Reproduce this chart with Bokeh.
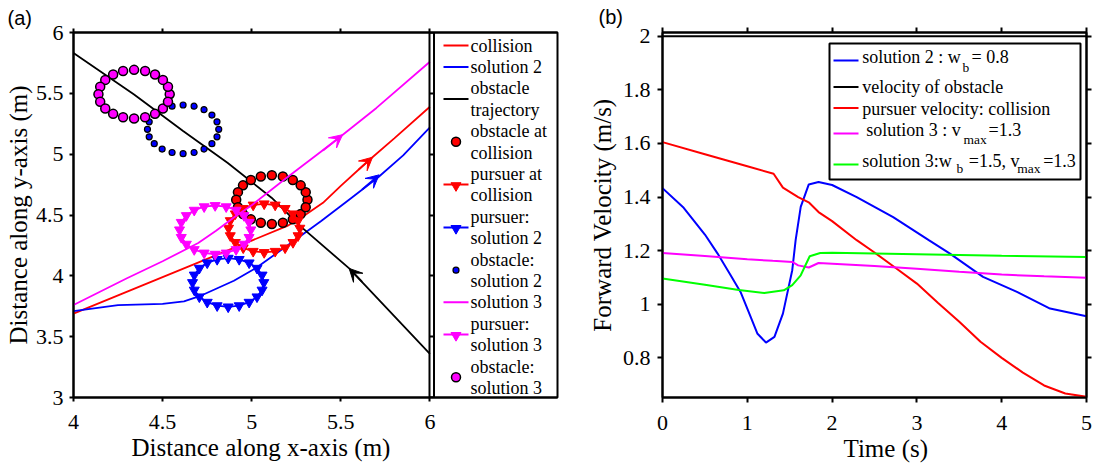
import numpy as np
from bokeh.plotting import figure
from bokeh.layouts import row
from bokeh.models import (Range1d, LinearAxis, FixedTicker, CustomJSTickFormatter, BasicTickFormatter,
                          Label, Arrow, VeeHead, Span, Title)
from bokeh.embed import file_html
from bokeh.resources import INLINE

SERIF = "Liberation Serif"
SANS = "Liberation Sans"
RED, BLUE, MAG, GRN, BLK = "#FF0000", "#0000FF", "#FF00FF", "#00FF00", "#000000"

# ---------------- panel (a) data ----------------
collision_x = [4.0, 4.25, 4.5, 4.75, 5.0, 5.2, 5.3, 5.4, 5.5, 5.65, 5.8, 6.0]
collision_y = [3.69, 3.84, 3.99, 4.14, 4.29, 4.41, 4.50, 4.60, 4.74, 4.94, 5.13, 5.39]
sol2_x = [4.0, 4.25, 4.5, 4.62, 4.72, 4.9, 5.03, 5.22, 5.39, 5.55, 5.71, 5.85, 6.0]
sol2_y = [3.71, 3.76, 3.77, 3.79, 3.84, 3.96, 4.07, 4.27, 4.45, 4.63, 4.81, 4.99, 5.22]
sol3_x = [4.0, 4.3, 4.5, 4.7, 4.8, 4.9, 5.0, 5.2, 5.46, 5.7, 6.0]
sol3_y = [3.76, 3.98, 4.12, 4.27, 4.37, 4.48, 4.58, 4.81, 5.10, 5.38, 5.76]
obstacle_x = [4.0, 4.34, 4.615, 4.864, 5.113, 5.276, 5.547, 6.0]
obstacle_y = [5.832, 5.49, 5.19, 4.929, 4.64, 4.405, 4.061, 3.359]

# footprints (robot radius 0.2 m, 20 boundary points): collision, solution 2, solution 3
ring_radius = 0.2
ring_points = 20
obstacle_ring_x = [5.113, 4.615, 4.34]
obstacle_ring_y = [4.626, 5.204, 5.493]
pursuer_ring_x = [5.07, 4.868, 4.795]
pursuer_ring_y = [4.392, 3.945, 4.378]

# direction arrows: red, blue, magenta, black
arrow_tail_x = [5.60, 5.62, 5.40, 5.62]
arrow_tail_y = [4.873, 4.71, 5.03, 3.95]
arrow_tip_x = [5.678, 5.715, 5.51, 5.547]
arrow_tip_y = [4.975, 4.83, 5.16, 4.061]
arrow_colors = [RED, BLUE, MAG, BLK]

a_xticks = [4, 4.5, 5, 5.5, 6]
a_yticks = [3, 3.5, 4, 4.5, 5, 5.5, 6]

# ---------------- panel (b) data ----------------
t_sol2 = [0, 0.25, 0.5, 0.65, 0.8, 0.92, 1.03, 1.118, 1.22, 1.32, 1.42, 1.53, 1.57, 1.63,
          1.725, 1.84, 2.0, 2.29, 2.72, 3.14, 3.39, 3.78, 4.18, 4.57, 5.0]
v_sol2 = [1.433, 1.36, 1.26, 1.189, 1.11, 1.046, 0.96, 0.891, 0.857, 0.878, 0.965, 1.127, 1.239, 1.363,
          1.447, 1.456, 1.445, 1.40, 1.325, 1.239, 1.189, 1.102, 1.046, 0.984, 0.955]
t_obst = [0, 5]
v_obst = [2.0, 2.0]
t_coll = [0, 0.5, 1.0, 1.31, 1.42, 1.6, 1.73, 1.84, 2.0, 2.29, 2.5, 2.75, 3.0, 3.25, 3.5,
          3.75, 4.0, 4.25, 4.5, 4.75, 5.0]
v_coll = [1.605, 1.56, 1.515, 1.487, 1.435, 1.40, 1.379, 1.344, 1.31, 1.239, 1.193, 1.135, 1.077,
          1.005, 0.935, 0.86, 0.80, 0.745, 0.697, 0.667, 0.655]
t_sol3 = [0, 0.5, 1.0, 1.3, 1.53, 1.6, 1.725, 1.84, 2.5, 3.0, 3.5, 4.0, 4.5, 5.0]
v_sol3 = [1.191, 1.18, 1.168, 1.162, 1.158, 1.145, 1.137, 1.154, 1.143, 1.132, 1.121, 1.111, 1.104, 1.099]
t_sol3b = [0, 0.5, 0.9, 1.2, 1.43, 1.53, 1.63, 1.736, 1.86, 2.0, 3.0, 4.0, 5.0]
v_sol3b = [1.096, 1.073, 1.053, 1.042, 1.052, 1.071, 1.108, 1.179, 1.191, 1.192, 1.187, 1.181, 1.176]

b_xticks = [0, 1, 2, 3, 4, 5]
b_yticks = [0.8, 1.0, 1.2, 1.4, 1.6, 1.8, 2.0]
b_ytick_labels = ["0.8", "1", "1.2", "1.4", "1.6", "1.8", "2"]

# ---------------- layout constants (page pixels) ----------------
H = 465
TOP, BOT = 32, 68            # frame top border / bottom border shared by both panels
A_LEFT, A_RIGHT_B, A_W = 73, 5, 562
B_LEFT, B_RIGHT_B, B_W = 100, 12, 536
A_X1 = 4 + (A_W - A_LEFT - A_RIGHT_B) / 178.2      # frame extends over the legend column


def style_axis(ax, ticks, tick_out, labels=True, fmt="js"):
    ax.ticker = FixedTicker(ticks=ticks)
    ax.axis_line_width = 2
    ax.axis_line_color = BLK
    ax.major_tick_line_width = 2
    ax.major_tick_line_color = BLK
    ax.major_tick_out = tick_out
    ax.major_tick_in = 0
    ax.minor_tick_line_color = None
    ax.axis_label_text_font = SERIF
    ax.axis_label_text_font_size = "25px"
    ax.axis_label_text_font_style = "normal"
    ax.axis_label_text_color = BLK
    ax.major_label_text_font = SERIF
    ax.major_label_text_font_style = "normal"
    ax.major_label_text_color = BLK
    if labels:
        if fmt == "js":
            ax.formatter = CustomJSTickFormatter(code="return tick.toString();")
        else:
            ax.formatter = BasicTickFormatter()
        ax.major_label_text_font_size = "22px"
    else:
        ax.formatter = CustomJSTickFormatter(code="return '';")
        ax.major_label_text_font_size = "1px"
        ax.major_label_standoff = 0


def base_fig(width, xr, yr, ml, mr, title, ylabel):
    p = figure(width=width, height=H, x_range=xr, y_range=yr, title=title,
               output_backend="svg", toolbar_location=None,
               min_border_left=ml, min_border_right=mr, min_border_top=TOP, min_border_bottom=BOT,
               y_axis_label=ylabel)
    p.grid.visible = False
    p.outline_line_color = BLK
    p.outline_line_width = 2
    p.background_fill_color = "white"
    p.border_fill_color = "white"
    p.title.align = "left"
    p.title.standoff = 0
    p.title.text_font = SANS
    p.title.text_font_size = "20px"
    p.title.text_font_style = "normal"
    p.title.text_color = BLK
    return p


def x_label(p, text, offset):
    p.add_layout(Title(text=text, align="left", offset=offset, standoff=0,
                       text_font=SERIF, text_font_size="25px", text_font_style="normal",
                       text_color=BLK), "below")


def ring(cx, cy, closed=False):
    th = np.linspace(0, 2 * np.pi, ring_points + (1 if closed else 0), endpoint=closed)
    return cx + ring_radius * np.cos(th), cy + ring_radius * np.sin(th)


def label(p, x, y, text, size="18px"):
    p.add_layout(Label(x=x, y=y, text=text, text_font=SERIF, text_font_size=size,
                       text_baseline="middle", text_align="left", text_color=BLK))


# ================= panel (a) =================
pa = base_fig(A_W, Range1d(4, A_X1), Range1d(3, 6), A_LEFT, A_RIGHT_B, "(a)",
              "Distance along y-axis (m)")
pa.title.offset = -66
pa.add_layout(LinearAxis(), "above")
spine6 = LinearAxis(fixed_location=6)
pa.add_layout(spine6, "right")
style_axis(pa.below[0], a_xticks, 4)
style_axis(pa.left[0], a_yticks, 4)
style_axis(pa.above[0], a_xticks, 4, labels=False)
style_axis(spine6, a_yticks, 4, labels=False)
pa.below[0].major_label_standoff = 13
pa.left[0].major_label_standoff = 6
pa.left[0].axis_label_standoff = 1
x_label(pa, "Distance along x-axis (m)", 58)

LW = 1.8
pa.line(collision_x, collision_y, line_color=RED, line_width=LW)
pa.line(sol2_x, sol2_y, line_color=BLUE, line_width=LW)
pa.line(obstacle_x, obstacle_y, line_color=BLK, line_width=LW)

ox, oy = ring(obstacle_ring_x[0], obstacle_ring_y[0])
pa.scatter(ox, oy, marker="circle", size=9, fill_color=RED, line_color=BLK, line_width=1.5)
px_, py_ = ring(pursuer_ring_x[0], pursuer_ring_y[0], closed=True)
pa.line(px_, py_, line_color=RED, line_width=LW)
pa.scatter(px_[:-1], py_[:-1], marker="inverted_triangle", size=10, fill_color=RED, line_color=RED)
px_, py_ = ring(pursuer_ring_x[1], pursuer_ring_y[1], closed=True)
pa.line(px_, py_, line_color=BLUE, line_width=LW)
pa.scatter(px_[:-1], py_[:-1], marker="inverted_triangle", size=10, fill_color=BLUE, line_color=BLUE)
ox, oy = ring(obstacle_ring_x[1], obstacle_ring_y[1])
pa.scatter(ox, oy, marker="circle", size=6, fill_color=BLUE, line_color=BLK, line_width=1.2)
pa.line(sol3_x, sol3_y, line_color=MAG, line_width=LW)
px_, py_ = ring(pursuer_ring_x[2], pursuer_ring_y[2], closed=True)
pa.line(px_, py_, line_color=MAG, line_width=LW)
pa.scatter(px_[:-1], py_[:-1], marker="inverted_triangle", size=10, fill_color=MAG, line_color=MAG)
ox, oy = ring(obstacle_ring_x[2], obstacle_ring_y[2])
pa.scatter(ox, oy, marker="circle", size=9, fill_color=MAG, line_color=BLK, line_width=1.5)

for i in range(len(arrow_tip_x)):
    c = arrow_colors[i]
    pa.add_layout(Arrow(end=VeeHead(size=13, fill_color=c, line_color=c, line_width=1),
                        x_start=arrow_tail_x[i], y_start=arrow_tail_y[i],
                        x_end=arrow_tip_x[i], y_end=arrow_tip_y[i],
                        line_color=c, line_width=LW))


# ---- legend of panel (a): placed in the column right of x = 6 (positions in page pixels)
def ax_(px):
    return 4 + (px - A_LEFT) / 178.2


def ay_(py):
    return 6 - 3.0 * (py - TOP) / (H - TOP - BOT)


pa.add_layout(Span(location=ax_(433.5), dimension="height", line_color=BLK, line_width=2))

leg_a_text = [["collision"], ["solution 2"], ["obstacle", "trajectory"], ["obstacle at", "collision"],
              ["pursuer at", "collision"], ["pursuer:", "solution 2"], ["obstacle:", "solution 2"],
              ["solution 3"], ["pursuer:", "solution 3"], ["obstacle:", "solution 3"]]
leg_a_kind = ["line", "line", "line", "obs", "pur", "pur", "dot", "line", "pur", "obs"]
leg_a_color = [RED, BLUE, BLK, RED, RED, BLUE, BLUE, MAG, MAG, MAG]
ROW0, ROWH = 45.0, 21.4
k = 0
for lines, kind, c in zip(leg_a_text, leg_a_kind, leg_a_color):
    ys = [ROW0 + ROWH * (k + j) for j in range(len(lines))]
    for yy, tx in zip(ys, lines):
        label(pa, ax_(470), ay_(yy), tx)
    yc = sum(ys) / len(ys)
    if kind in ("line", "pur"):
        pa.segment(x0=[ax_(443)], y0=[ay_(yc)], x1=[ax_(468)], y1=[ay_(yc)], line_color=c, line_width=2)
    if kind == "pur":
        pa.scatter([ax_(455.5)], [ay_(yc + 1)], marker="inverted_triangle", size=10,
                   fill_color=c, line_color=c)
    if kind == "obs":
        pa.scatter([ax_(455.5)], [ay_(yc)], marker="circle", size=9, fill_color=c,
                   line_color=BLK, line_width=1.5)
    if kind == "dot":
        pa.scatter([ax_(455.5)], [ay_(yc)], marker="circle", size=6, fill_color=c,
                   line_color=BLK, line_width=1.2)
    k += len(lines)

# ================= panel (b) =================
B_Y0, B_Y1 = 0.652, 2.014
pb = base_fig(B_W, Range1d(0, 5), Range1d(B_Y0, B_Y1), B_LEFT, B_RIGHT_B, "(b)",
              "Forward Velocity (m/s)")
pb.title.offset = -64
pb.add_layout(LinearAxis(), "above")
pb.add_layout(LinearAxis(), "right")
style_axis(pb.below[0], b_xticks, 5, fmt="basic")
style_axis(pb.left[0], b_yticks, 5, fmt="basic")
pb.left[0].major_label_overrides = dict(zip(b_yticks, b_ytick_labels))
style_axis(pb.above[0], b_xticks, 5, labels=False)
style_axis(pb.right[0], b_yticks, 5, labels=False)
pb.below[0].major_label_standoff = 13
pb.left[0].major_label_standoff = 7
pb.left[0].axis_label_standoff = 4
x_label(pb, "Time (s)", 181)

BW = 2
pb.line(t_sol2, v_sol2, line_color=BLUE, line_width=BW)
pb.line(t_obst, v_obst, line_color=BLK, line_width=BW)
pb.line(t_coll, v_coll, line_color=RED, line_width=BW)
pb.line(t_sol3, v_sol3, line_color=MAG, line_width=BW)
pb.line(t_sol3b, v_sol3b, line_color=GRN, line_width=BW)

B_FL = A_W + B_LEFT
B_FW = B_W - B_LEFT - B_RIGHT_B


def bx(px):
    return 5.0 * (px - B_FL) / B_FW


def by(py):
    return B_Y1 - (B_Y1 - B_Y0) * (py - TOP) / (H - TOP - BOT)


pb.quad(left=[bx(829)], right=[bx(1080)], top=[by(43)], bottom=[by(179)], fill_color="white",
        line_color=BLK, line_width=2)
leg_b_colors = [BLUE, BLK, RED, MAG, GRN]
leg_b_sample_y = [60, 86.5, 107.5, 133, 164]
pb.segment(x0=[bx(833)] * 5, y0=[by(v) for v in leg_b_sample_y],
           x1=[bx(858)] * 5, y1=[by(v) for v in leg_b_sample_y],
           line_color=leg_b_colors, line_width=2)
leg_b_main = ["solution 2 : w", "= 0.8", "velocity of obstacle", "pursuer velocity: collision",
              "solution 3 : v", "=1.3", "solution 3:w", "=1.5, v", "=1.3"]
leg_b_main_px = [861.7, 971, 861.7, 861.7, 865.7, 988, 861.7, 968.3, 1042.7]
leg_b_main_py = [56.7, 56.7, 86.7, 108.3, 129, 129, 160.7, 160.7, 160.7]
leg_b_sub = ["b", "max", "b", "max"]
leg_b_sub_px = [962, 963, 956, 1016.7]
leg_b_sub_py = [66.7, 139.3, 168.3, 168.3]
for tx, xx, yy in zip(leg_b_main, leg_b_main_px, leg_b_main_py):
    label(pb, bx(xx), by(yy), tx)
for tx, xx, yy in zip(leg_b_sub, leg_b_sub_px, leg_b_sub_py):
    label(pb, bx(xx), by(yy), tx, size="13.5px")

layout = row(pa, pb)
open("out.html", "w").write(file_html(layout, INLINE))
